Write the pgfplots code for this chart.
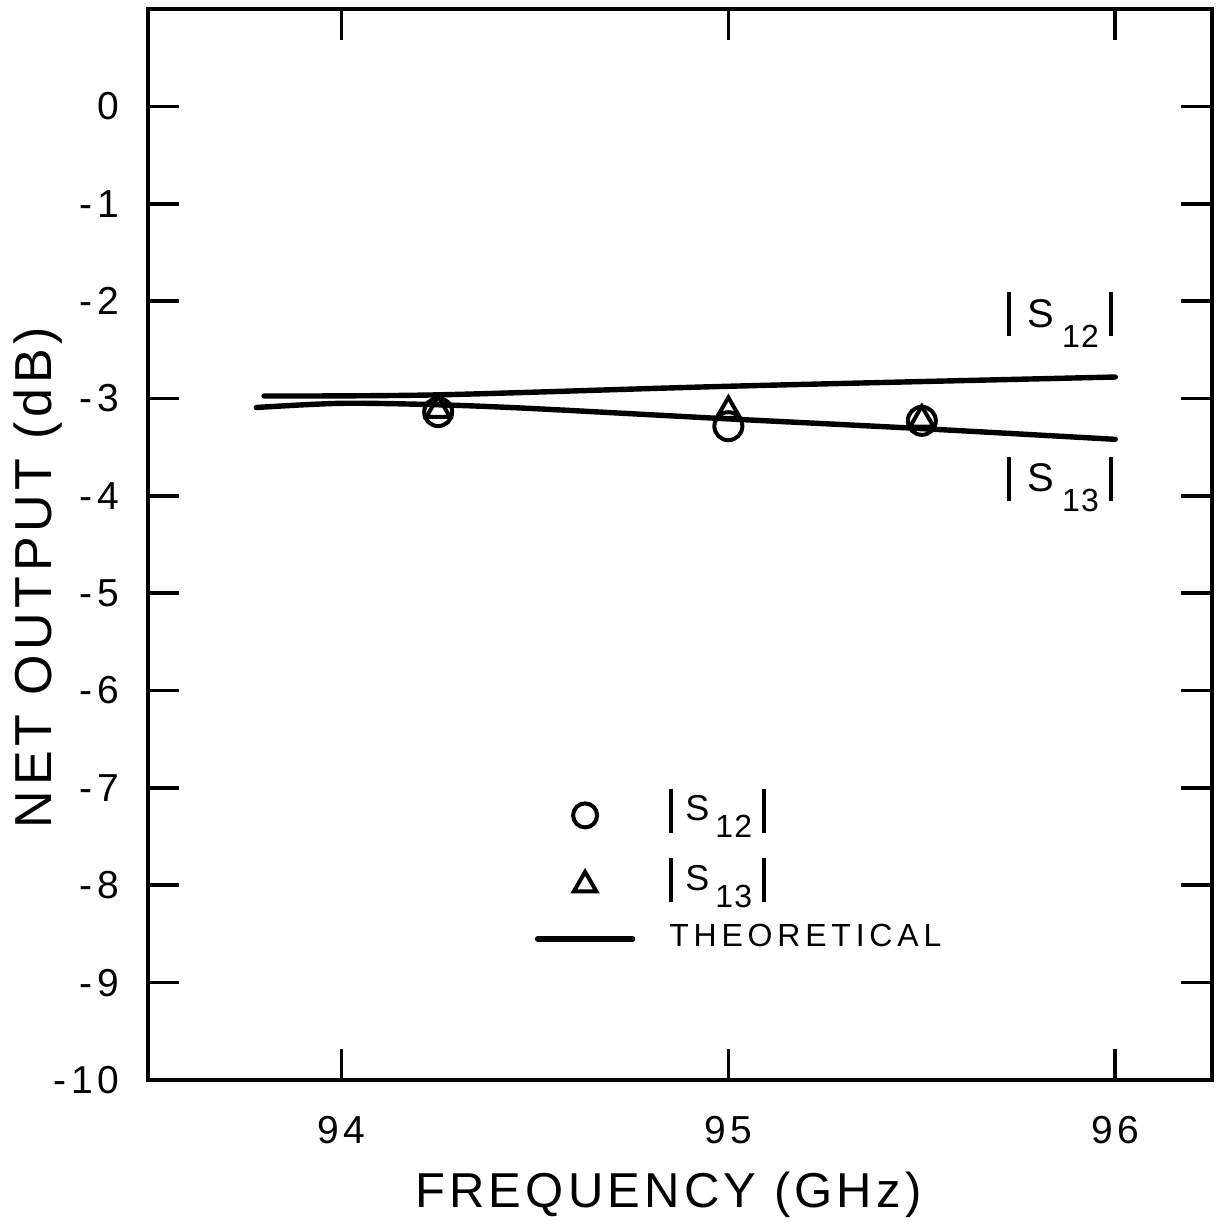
\documentclass[border=0pt]{standalone}
\usepackage{fontspec}
\setmainfont{Liberation Sans}
\newfontfamily\tickfont{Liberation Sans}[LetterSpace=13]
\newfontfamily\xlabfont{Liberation Sans}[LetterSpace=8.5]
\newfontfamily\ylabfont{Liberation Sans}[LetterSpace=9]
\newfontfamily\legfont{Liberation Sans}[LetterSpace=15]
\newfontfamily\subfont{Liberation Sans}[LetterSpace=4]
\usepackage{pgfplots}
\pgfplotsset{compat=1.18}
\pgfplotsset{
  markleg/.style={legend image code/.code={\draw[mark repeat=2,mark phase=2,##1,mark size=6pt,yshift=-4.5pt] plot coordinates {(0pt,0pt) (23.75pt,0pt) (47.5pt,0pt)};}},
  triLeg/.style={legend image code/.code={\draw[mark repeat=2,mark phase=2,##1,mark size=6.5pt,yshift=-4.5pt] plot coordinates {(0pt,0pt) (23.75pt,0pt) (47.5pt,0pt)};}},
  lineleg/.style={legend image code/.code={\draw[##1, yshift=-1pt] (0pt,0pt) -- (47.5pt,0pt);}},
}
\newcommand\Sleg[1]{\rule[-6pt]{2pt}{22pt}\hspace{6pt}S\hspace{3pt}\raisebox{-8.5pt}{\fontsize{16}{16}\subfont #1}\hspace{5pt}\rule[-6pt]{2pt}{22pt}}
\newcommand\Slab[1]{\rule[-4.5pt]{2pt}{22pt}\hspace{8pt}S\hspace{4pt}\raisebox{-10pt}{\fontsize{16}{16}\subfont #1}\hspace{5pt}\rule[-4.5pt]{2pt}{22pt}}
\begin{document}
\begin{tikzpicture}
\begin{axis}[
  scale only axis, width=532pt, height=535.5pt,
  xmin=93.5, xmax=96.25, ymin=-10, ymax=1,
  clip=false,
  xtick={94,95,96}, xticklabels={94,95,96},
  ytick={-10,-9,-8,-7,-6,-5,-4,-3,-2,-1,0},
  yticklabels={-10,-9,-8,-7,-6,-5,-4,-3,-2,-1,0},
  tick align=inside, major tick length=15.5pt,
  axis line style={line width=2pt},
  tick style={line width=1.8pt, black},
  xticklabel style={font=\tickfont\fontsize{19.5}{20}\selectfont, anchor=center, yshift=-25pt},
  yticklabel style={font=\tickfont\fontsize{19.5}{20}\selectfont, anchor=east, inner sep=0pt, xshift=-14pt},
  xlabel={FREQUENCY (GHz)}, ylabel={NET OUTPUT (dB)},
  xlabel style={at={(axis cs:94.845,-11.18)}, anchor=center, font=\xlabfont\fontsize{24.5}{25}\selectfont},
  ylabel style={at={(axis cs:93.216,-4.84)}, anchor=center, font=\ylabfont\fontsize{26}{26}\selectfont},
  legend style={at={(axis cs:94.5,-7.01)}, anchor=north west, draw=none, fill=none,
    inner sep=0pt, outer sep=0pt, row sep=15.5pt, column sep=17pt,
    nodes={inner sep=0pt}, font=\legfont\fontsize{18}{18}\selectfont},
  legend cell align=left,
]
\addplot[only marks, mark=o, mark size=7pt, mark options={line width=2pt}, markleg]
  coordinates {(94.25,-3.14) (95.0,-3.285) (95.5,-3.23)};
\addlegendentry{\Sleg{12}}
\addplot[only marks, mark=triangle, mark size=6.8pt, mark options={line width=2pt}, triLeg]
  coordinates {(94.25,-3.12) (95.0,-3.13) (95.5,-3.22)};
\addlegendentry{\Sleg{13}}
\addplot[line width=2.7pt, line cap=round, smooth, lineleg]
  coordinates {(93.8,-2.975) (94.25,-2.963) (95.0,-2.875) (96.0,-2.78)};
\addlegendentry{\fontsize{16}{16}\selectfont THEORETICAL}
\addplot[line width=2.7pt, line cap=round, smooth, forget plot]
  coordinates {(93.78,-3.093) (94.0,-3.05) (94.25,-3.065) (94.5,-3.105) (95.0,-3.21) (95.5,-3.31) (96.0,-3.42)};
\node[anchor=base west, inner sep=0pt, font=\legfont\fontsize{20}{20}\selectfont] at (axis cs:95.72,-2.27) {\Slab{12}};
\node[anchor=base west, inner sep=0pt, font=\legfont\fontsize{20}{20}\selectfont] at (axis cs:95.72,-3.96) {\Slab{13}};
\end{axis}
\pgfresetboundingbox
\path ([shift={(-74pt,-73pt)}]current axis.south west) rectangle ([shift={(4pt,4.5pt)}]current axis.north east);
\end{tikzpicture}
\end{document}
